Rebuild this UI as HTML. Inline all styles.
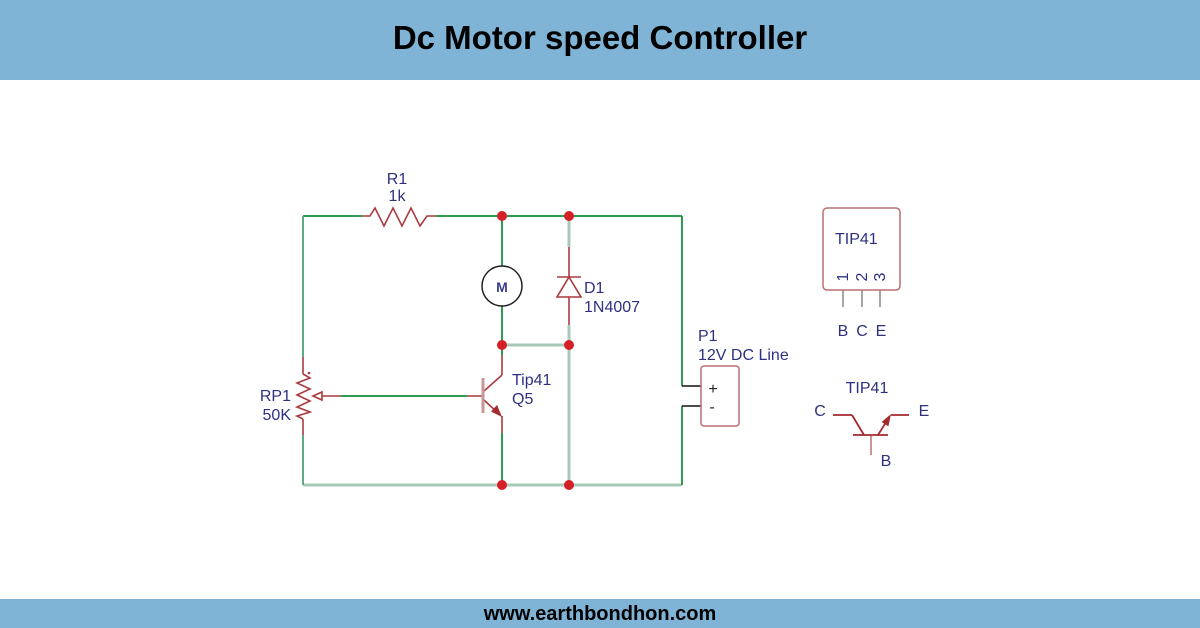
<!DOCTYPE html>
<html>
<head>
<meta charset="utf-8">
<style>
  html,body{margin:0;padding:0;background:#fff;}
  body{width:1200px;height:628px;overflow:hidden;position:relative;font-family:"Liberation Sans",Arial,sans-serif;}
  .hdr{position:absolute;left:0;top:0;width:1200px;height:80px;background:#7fb4d7;}
  .hdr span{position:absolute;left:0;width:1200px;top:18px;text-align:center;font-weight:bold;font-size:33px;line-height:40px;color:#000;}
  .ftr{position:absolute;left:0;top:599px;width:1200px;height:29px;background:#7fb4d7;}
  .ftr span{position:absolute;left:0;width:1200px;top:3px;text-align:center;font-weight:bold;font-size:20px;line-height:24px;color:#000;}
  svg{position:absolute;left:0;top:0;}
  svg text{font-family:"Liberation Sans",Arial,sans-serif;fill:#2d3180;font-size:16px;}
</style>
</head>
<body>
<div class="hdr"><span>Dc Motor speed Controller</span></div>
<div class="ftr"><span>www.earthbondhon.com</span></div>

<svg width="1200" height="628" viewBox="0 0 1200 628" xmlns="http://www.w3.org/2000/svg">
  <!-- light wires -->
  <g stroke="#a6cab7" stroke-width="3" fill="none">
    <line x1="569" y1="216" x2="569" y2="247"/>
    <line x1="569" y1="325" x2="569" y2="485"/>
    <line x1="502" y1="345" x2="569" y2="345"/>
    <line x1="303" y1="485" x2="682" y2="485"/>
  </g>
  <!-- dark green wires -->
  <g stroke="#2e9a52" stroke-width="2" fill="none">
    <line x1="303" y1="216" x2="362" y2="216"/>
    <line x1="436" y1="216" x2="682" y2="216"/>
    <line x1="682" y1="216" x2="682" y2="386"/>
    <line x1="682" y1="406" x2="682" y2="485"/>
    <line x1="502" y1="216" x2="502" y2="266"/>
    <line x1="502" y1="306" x2="502" y2="355"/>
    <line x1="502" y1="433" x2="502" y2="485"/>
    <line x1="341" y1="396" x2="467" y2="396"/>
  </g>
  <g stroke="#5fa983" stroke-width="2" fill="none">
    <line x1="303" y1="216" x2="303" y2="357"/>
    <line x1="303" y1="435" x2="303" y2="485"/>
  </g>

  <!-- R1 -->
  <polyline points="362,216 370,216 375,208 384,226 393,208 402,226 411,208 420,226 427,216 436,216" fill="none" stroke="#a83a3e" stroke-width="1.6"/>
  <text x="397" y="184" text-anchor="middle">R1</text>
  <text x="397" y="201" text-anchor="middle">1k</text>

  <!-- Motor -->
  <circle cx="502" cy="286" r="20" fill="#fff" stroke="#222" stroke-width="1.5"/>
  <text x="502" y="292" text-anchor="middle" style="font-size:14px;font-weight:bold;fill:#3a3f8a">M</text>

  <!-- Diode -->
  <g stroke="#a83a3e" stroke-width="1.6" fill="none">
    <line x1="569" y1="247" x2="569" y2="325"/>
    <line x1="557" y1="277" x2="581" y2="277"/>
    <polygon points="569,277 557,297 581,297" fill="#fff"/>
  </g>
  <text x="584" y="293">D1</text>
  <text x="584" y="312">1N4007</text>

  <!-- Potentiometer RP1 -->
  <g stroke="#a83a3e" stroke-width="1.6" fill="none">
    <line x1="303" y1="357" x2="303" y2="374"/>
    <polyline points="303,374 310,378 297,383 310,389 297,395 310,401 297,407 310,412 297,416 303,419"/>
    <line x1="303" y1="419" x2="303" y2="435"/>
    <line x1="315" y1="396" x2="341" y2="396"/>
    <polygon points="313,396 322,392 322,400" fill="#fff"/>
  </g>
  <circle cx="309" cy="373" r="1.3" fill="#a83a3e"/>
  <text x="291" y="401" text-anchor="end">RP1</text>
  <text x="291" y="420" text-anchor="end">50K</text>

  <!-- Transistor Q5 -->
  <g stroke="#a83a3e" stroke-width="1.6" fill="none">
    <line x1="467" y1="396" x2="484" y2="396"/>
    <line x1="484" y1="391" x2="502" y2="375"/>
    <line x1="502" y1="375" x2="502" y2="355"/>
    <line x1="484" y1="400" x2="500" y2="415"/>
    <line x1="502" y1="416" x2="502" y2="433"/>
  </g>
  <line x1="483" y1="378" x2="483" y2="413" stroke="#c99595" stroke-width="3"/>
  <polygon points="502,417 491,411.5 497,405" fill="#a32a2e"/>
  <text x="512" y="385">Tip41</text>
  <text x="512" y="404">Q5</text>

  <!-- P1 connector -->
  <g stroke="#111" stroke-width="1.5">
    <line x1="682" y1="386" x2="701" y2="386"/>
    <line x1="682" y1="406" x2="701" y2="406"/>
  </g>
  <rect x="701" y="366" width="38" height="60" rx="3" ry="3" fill="#fff" stroke="#b87070" stroke-width="1.5"/>
  <text x="713" y="394" text-anchor="middle" style="fill:#222">+</text>
  <text x="712" y="412" text-anchor="middle" style="fill:#222">-</text>
  <text x="698" y="341">P1</text>
  <text x="698" y="360">12V DC Line</text>

  <!-- junction dots -->
  <g fill="#d42026">
    <circle cx="502" cy="216" r="5"/>
    <circle cx="569" cy="216" r="5"/>
    <circle cx="502" cy="345" r="5"/>
    <circle cx="569" cy="345" r="5"/>
    <circle cx="502" cy="485" r="5"/>
    <circle cx="569" cy="485" r="5"/>
  </g>

  <!-- TIP41 package -->
  <rect x="823" y="208" width="77" height="82" rx="4" ry="4" fill="#fff" stroke="#b87070" stroke-width="1.5"/>
  <text x="835" y="244">TIP41</text>
  <g style="font-size:14px">
    <text transform="translate(848,277) rotate(-90)" text-anchor="middle">1</text>
    <text transform="translate(867,277) rotate(-90)" text-anchor="middle">2</text>
    <text transform="translate(885,277) rotate(-90)" text-anchor="middle">3</text>
  </g>
  <g stroke="#888" stroke-width="1.5">
    <line x1="843" y1="290" x2="843" y2="307"/>
    <line x1="862" y1="290" x2="862" y2="307"/>
    <line x1="880" y1="290" x2="880" y2="307"/>
  </g>
  <text x="843" y="336" text-anchor="middle">B</text>
  <text x="862" y="336" text-anchor="middle">C</text>
  <text x="881" y="336" text-anchor="middle">E</text>

  <!-- TIP41 symbol -->
  <text x="867" y="393" text-anchor="middle">TIP41</text>
  <text x="820" y="416" text-anchor="middle">C</text>
  <text x="924" y="416" text-anchor="middle">E</text>
  <text x="886" y="466" text-anchor="middle">B</text>
  <g stroke="#a32a2e" stroke-width="1.8" fill="none">
    <line x1="833" y1="415" x2="852" y2="415"/>
    <line x1="852" y1="415" x2="864" y2="435"/>
    <line x1="853" y1="435" x2="888" y2="435"/>
    <line x1="878" y1="435" x2="888" y2="419"/>
    <line x1="891" y1="415" x2="909" y2="415"/>
  </g>
  <line x1="871" y1="436" x2="871" y2="455" stroke="#c99595" stroke-width="2"/>
  <polygon points="891,414 888.4,426.4 881.6,422" fill="#a32a2e"/>
</svg>
</body>
</html>
